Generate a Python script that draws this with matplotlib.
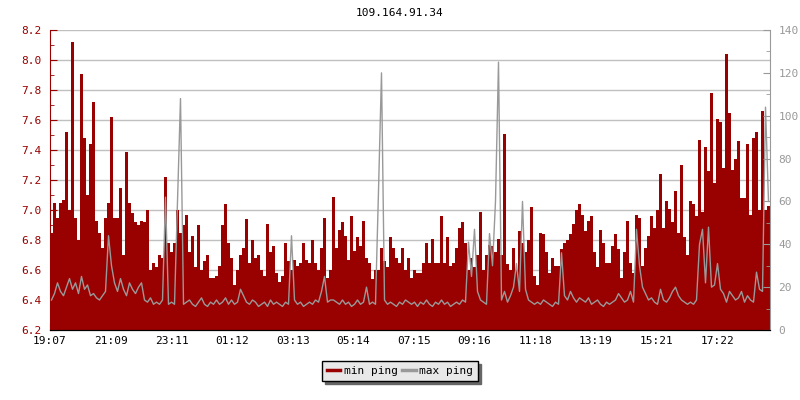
import numpy as np
import matplotlib
matplotlib.use("Agg")
import matplotlib.pyplot as plt
from matplotlib.ticker import MultipleLocator

plt.rcParams["font.family"] = "DejaVu Sans Mono"
plt.rcParams["font.size"] = 8

title = "109.164.91.34"
step_min = 6  # one sample every 6 minutes, starting 19:07
start_label = "19:07"
tick_labels = ["19:07", "21:09", "23:11", "01:12", "03:13", "05:14",
               "07:15", "09:16", "11:18", "13:19", "15:21", "17:22"]

# min ping [ms], left axis
min_ping = [
    6.85, 7.05, 6.95, 7.05, 7.07, 7.52, 7.00, 8.12, 6.95, 6.80,
    7.91, 7.48, 7.10, 7.44, 7.72, 6.93, 6.85, 6.75, 6.95, 7.05,
    7.62, 6.95, 6.95, 7.15, 6.70, 7.39, 7.05, 6.98, 6.92, 6.90,
    6.93, 6.92, 7.00, 6.60, 6.65, 6.62, 6.70, 6.68, 7.22, 6.78,
    6.72, 6.78, 7.00, 6.85, 6.90, 6.97, 6.72, 6.83, 6.62, 6.90,
    6.60, 6.66, 6.70, 6.55, 6.55, 6.56, 6.63, 6.90, 7.04, 6.78,
    6.68, 6.50, 6.60, 6.70, 6.75, 6.94, 6.65, 6.80, 6.68, 6.70,
    6.60, 6.56, 6.91, 6.72, 6.76, 6.58, 6.52, 6.56, 6.78, 6.66,
    6.60, 6.67, 6.63, 6.65, 6.78, 6.67, 6.65, 6.80, 6.65, 6.60,
    6.75, 6.95, 6.55, 6.60, 7.09, 6.75, 6.87, 6.92, 6.83, 6.67,
    6.96, 6.73, 6.82, 6.76, 6.93, 6.68, 6.65, 6.54, 6.60, 6.60,
    6.75, 6.66, 6.62, 6.82, 6.75, 6.68, 6.65, 6.75, 6.60, 6.68,
    6.55, 6.60, 6.58, 6.58, 6.65, 6.78, 6.65, 6.81, 6.65, 6.65,
    6.96, 6.65, 6.82, 6.63, 6.65, 6.75, 6.88, 6.92, 6.78, 6.60,
    6.68, 6.62, 6.70, 6.99, 6.60, 6.70, 6.77, 6.76, 6.72, 6.81,
    6.70, 7.51, 6.64, 6.60, 6.75, 6.60, 6.86, 6.78, 6.72, 6.80,
    7.02, 6.56, 6.50, 6.85, 6.84, 6.72, 6.58, 6.68, 6.63, 6.63,
    6.74, 6.78, 6.80, 6.84, 6.91, 7.00, 7.04, 6.97, 6.86, 6.93,
    6.96, 6.72, 6.62, 6.87, 6.78, 6.65, 6.65, 6.76, 6.84, 6.74,
    6.55, 6.72, 6.93, 6.65, 6.58, 6.97, 6.95, 6.63, 6.75, 6.83,
    6.96, 6.88, 7.00, 7.24, 6.88, 7.06, 7.01, 6.92, 7.13, 6.85,
    7.30, 6.82, 6.70, 7.06, 7.04, 6.96, 7.47, 6.99, 7.42, 7.26,
    7.78, 7.18, 7.61, 7.59, 7.28, 8.04, 7.65, 7.27, 7.34, 7.46,
    7.08, 7.08, 7.44, 6.97, 7.48, 7.52, 7.00, 7.66, 7.00, 7.03,
]

# max ping [ms], right axis
max_ping = [
    14, 17, 22, 18, 16, 20, 24, 19, 22, 17,
    25, 19, 21, 16, 17, 15, 14, 16, 18, 44,
    30, 22, 18, 24, 19, 16, 22, 19, 17, 20,
    22, 14, 13, 15, 12, 13, 12, 14, 62, 12,
    13, 12, 60, 108, 12, 13, 14, 12, 11, 13,
    15, 12, 11, 13, 12, 14, 12, 13, 15, 12,
    14, 12, 13, 19, 16, 13, 12, 14, 13, 11,
    12, 13, 11, 14, 12, 13, 12, 11, 13, 12,
    44, 14, 12, 13, 11, 12, 13, 12, 14, 13,
    18, 25, 13, 14, 14, 13, 12, 14, 12, 13,
    11, 12, 14, 12, 13, 20, 12, 13, 12, 65,
    120, 14, 12, 13, 12, 11, 13, 12, 14, 13,
    12, 13, 11, 13, 12, 14, 12, 11, 13, 12,
    14, 12, 13, 11, 12, 13, 12, 14, 13, 41,
    25, 47, 18, 14, 13, 12, 45, 30, 60, 125,
    14, 18, 13, 16, 20, 31, 18, 60, 19, 14,
    13, 12, 13, 12, 14, 13, 12, 11, 13, 12,
    36, 16, 14, 18, 15, 13, 15, 14, 13, 15,
    12, 13, 14, 12, 11, 13, 12, 13, 14, 17,
    15, 13, 14, 18, 13, 47, 30, 20, 17, 14,
    15, 13, 12, 19, 14, 13, 15, 18, 20, 16,
    14, 13, 12, 13, 12, 14, 40, 47, 22, 48,
    20, 21, 31, 19, 17, 13, 18, 16, 14, 15,
    18, 13, 16, 14, 13, 27, 19, 18, 104, 60,
]

RED = "#990000"
GRAY = "#999999"


def to_min(label):
    h, m = map(int, label.split(":"))
    return h * 60 + m


edges = np.arange(len(min_ping) + 1) * step_min
centers = edges[:-1] + step_min / 2
t0 = to_min(start_label)
tick_pos = [(to_min(l) - t0) % 1440 for l in tick_labels]

fig = plt.figure(figsize=(8, 4), dpi=100)
ax = fig.add_axes([50 / 800, 70 / 400, 720 / 800, 300 / 400])
ax2 = ax.twinx()

ax.stairs(min_ping, edges, baseline=6.2, fill=True, color=RED, lw=0)
ax2.plot(centers, max_ping, color=GRAY, lw=1)

ax.set_xlim(edges[0], edges[-1])
ax.set_ylim(6.2, 8.2)
ax2.set_ylim(0, 140)

ax.set_axisbelow(True)
ax.yaxis.set_major_locator(MultipleLocator(0.2))
ax.yaxis.set_minor_locator(MultipleLocator(0.1))
ax.yaxis.grid(True, color="#c0c0c0", lw=1)
ax.yaxis.set_major_formatter(plt.FormatStrFormatter("%.1f"))
ax2.yaxis.set_major_locator(MultipleLocator(20))
ax2.yaxis.set_minor_locator(MultipleLocator(10))

ax.set_xticks(tick_pos)
ax.set_xticklabels(tick_labels)

ax.tick_params(axis="y", which="both", direction="in", colors=RED, labelcolor=RED)
ax.tick_params(axis="y", which="major", length=5, pad=6)
ax.tick_params(axis="y", which="minor", length=3)
ax.tick_params(axis="x", direction="in", length=5, colors="black", pad=4)
ax2.tick_params(axis="y", which="both", direction="in", colors=GRAY, labelcolor=GRAY)
ax2.tick_params(axis="y", which="major", length=5, pad=6)
ax2.tick_params(axis="y", which="minor", length=3)

for a in (ax, ax2):
    a.spines["top"].set_visible(False)
ax.spines["left"].set_color(RED)
ax.spines["right"].set_visible(False)
ax2.spines["left"].set_visible(False)
ax2.spines["right"].set_color(GRAY)
ax2.spines["bottom"].set_color("black")
ax.spines["bottom"].set_color("black")

fig.text(0.5, 1 - 13 / 400, title, ha="center", va="center", fontsize=8)

h1 = plt.Line2D([], [], color=RED, lw=2.5)
h2 = plt.Line2D([], [], color=GRAY, lw=2.5)
fig.legend([h1, h2], ["min ping", "max ping"], loc="center",
           bbox_to_anchor=(0.5, 1 - 371 / 400), ncol=2, fontsize=8,
           frameon=True, fancybox=False, edgecolor="black", facecolor="#e8e8e8",
           framealpha=1, shadow={"color": "#666666", "alpha": 1},
           handlelength=1.2, handletextpad=0.3, columnspacing=0.4,
           borderpad=0.45)

fig.savefig("out.png", dpi=100)
